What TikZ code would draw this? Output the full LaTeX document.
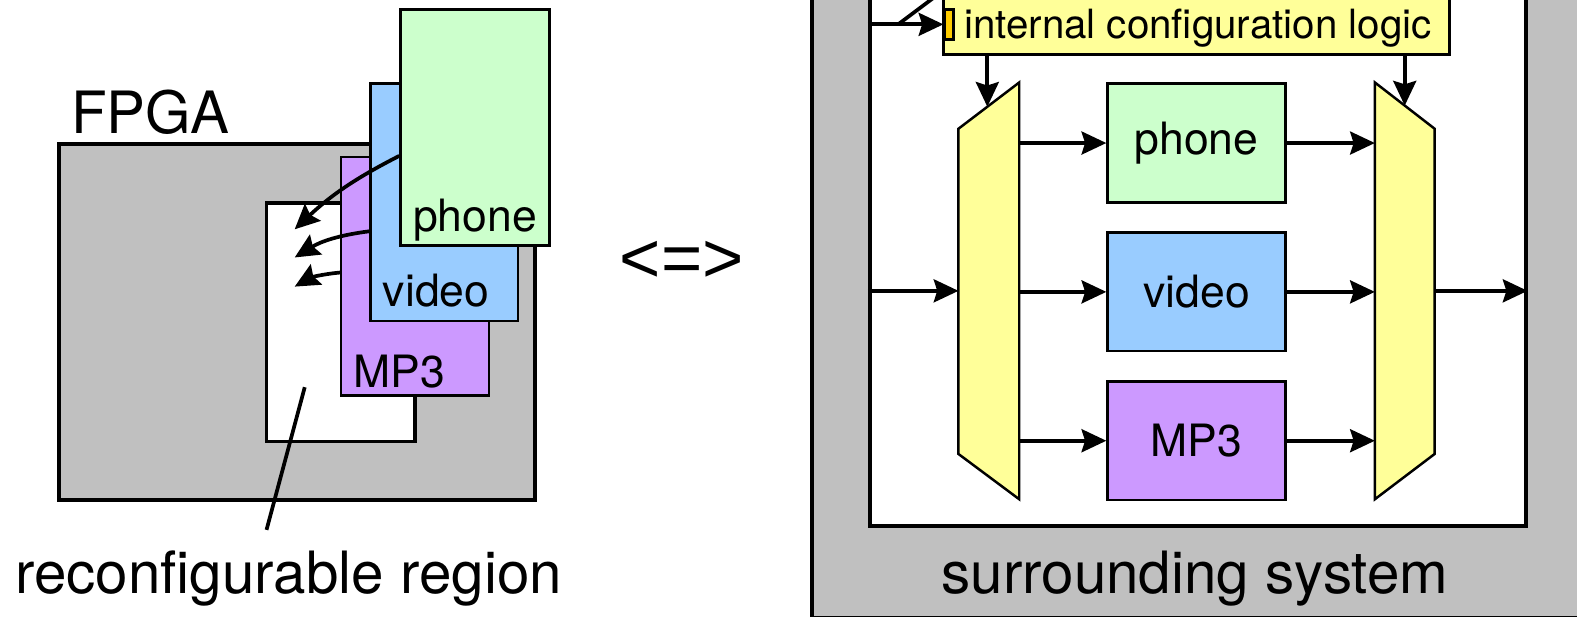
\documentclass[tikz,border=0pt]{standalone}
\usepackage{fontspec}
\setmainfont{TeX Gyre Heros}
\newfontfamily\symfont{Liberation Sans}
\usetikzlibrary{arrows.meta, positioning, calc}
\definecolor{fpgagray}{HTML}{C0C0C0}
\definecolor{phonegreen}{HTML}{CCFFCC}
\definecolor{videoblue}{HTML}{99CCFF}
\definecolor{mpthreepurple}{HTML}{CC99FF}
\definecolor{logicyellow}{HTML}{FFFF99}
\definecolor{portorange}{HTML}{FFCC00}
\newcommand{\bigtxt}{\fontsize{16.5}{19}\selectfont}
\newcommand{\boxtxt}{\fontsize{12.6}{15}\selectfont}
\newcommand{\logictxt}{\fontsize{11.4}{14}\selectfont}
\newcommand{\eqtxt}{\symfont\fontsize{20}{24}\selectfont}

\begin{document}
\begin{tikzpicture}[
    >={Stealth[length=7pt,width=6.5pt,inset=1pt]},
    chip/.style={
        rectangle, draw=black, fill=#1,
        line width=1.1pt, inner sep=0pt, anchor=north west
    },
    card/.style={
        rectangle, draw=black, fill=#1,
        line width=0.7pt, inner sep=0pt, anchor=north west
    },
    unit/.style={card=#1, minimum width=1.77cm, minimum height=1.18cm, font=\boxtxt},
    cardtxt/.style={anchor=base west, inner sep=0pt, font=\boxtxt},
    muxbox/.style={rectangle, draw=none, inner sep=0pt, anchor=north west, minimum height=4.13cm},
    mux/.style={draw=black, fill=logicyellow, line width=0.7pt, line join=miter},
    link/.style={line width=1.05pt, draw=black}
]
\clip (0,0) rectangle (15.68,-6.13);

% ==============================================================================
% LEFT: FPGA WITH SWAPPABLE MODULES
% ==============================================================================
\node[chip=fpgagray, minimum width=4.73cm, minimum height=3.54cm] (fpga) at (0.57,-1.41) {};
\node[anchor=base west, inner sep=0pt, font=\bigtxt] (fpgatxt) at (0.70,-1.33) {FPGA};

\node[chip=white, minimum width=1.48cm, minimum height=2.37cm] (region) at (2.63,-2.00) {};

\node[card=mpthreepurple, minimum width=1.47cm, minimum height=2.37cm] (mpcard) at (3.38,-1.55) {};
\node[cardtxt] (mptxt) at (3.51,-3.85) {MP3};

\node[card=videoblue, minimum width=1.47cm, minimum height=2.36cm] (videocard) at (3.67,-0.82) {};
\node[cardtxt] (videotxt) at (3.80,-3.05) {video};

\node[card=phonegreen, minimum width=1.48cm, minimum height=2.35cm] (phonecard) at (3.97,-0.08) {};
\node[cardtxt] (phonetxt) at (4.10,-2.30) {phone};

% slots inside the region
\coordinate (slotA) at (2.93,-2.28);
\coordinate (slotB) at (2.93,-2.56);
\coordinate (slotC) at (2.93,-2.85);

\draw[link,->] (phonecard.west |- 0,-1.55) to[bend right=8] (slotA);
\draw[link,->] (videocard.west |- 0,-2.30) to[bend right=12] (slotB);
\draw[link,->] (mpcard.west |- 0,-2.71) to[bend right=12] (slotC);

\node[anchor=base, inner sep=0pt, font=\bigtxt] (regtxt) at (2.87,-5.90) {reconfigurable region};
\coordinate (regptr) at (3.03,-3.85);
\draw[link] (regptr) -- ([shift={(-0.22,0.20)}]regtxt.north);

\node[font=\eqtxt, inner sep=0pt] (equiv) at (6.78,-2.60) {<=>};

% ==============================================================================
% RIGHT: MULTIPLEXED MODULES IN THE SURROUNDING SYSTEM
% ==============================================================================
\node[chip=fpgagray, minimum width=8.2cm, minimum height=6.5cm] (system) at (8.05,0.38) {};
\node[anchor=base, inner sep=0pt, font=\bigtxt] (systxt) at (11.88,-5.90) {surrounding system};

\node[chip=white, minimum width=6.52cm, minimum height=5.6cm] (fabric) at (8.63,0.39) {};

\node[card=logicyellow, minimum width=5.03cm, minimum height=0.9cm] (cfg) at (9.37,0.37) {};
\node[anchor=base west, inner sep=0pt, font=\logictxt] (cfgtxt) at (9.58,-0.38) {internal configuration logic};
\node[card=portorange, minimum width=0.09cm, minimum height=0.30cm] (cfgport) at (9.38,-0.08) {};

\coordinate (cfgin) at (fabric.west |- cfgport.west);
\draw[link,->] (cfgin) -- (cfgport.west);
\coordinate (cfgtap) at ($(cfgin)+(0.30,0)$);
\draw[link] (cfgtap) -- ++(0.40,0.30);

% multiplexers
\node[muxbox, minimum width=0.59cm] (lmux) at (9.53,-0.82) {};
\filldraw[mux] (lmux.north east) -- (lmux.south east) -- ([yshift=0.45cm]lmux.south west)
    -- ([yshift=-0.46cm]lmux.north west) coordinate (lmuxtl) -- cycle;

\node[muxbox, minimum width=0.58cm] (rmux) at (13.67,-0.82) {};
\filldraw[mux] (rmux.north west) -- ([yshift=-0.46cm]rmux.north east) coordinate (rmuxtr)
    -- ([yshift=0.45cm]rmux.south east) -- (rmux.south west) -- cycle;

\coordinate (lmuxtop) at ($(lmuxtl)!0.475!(lmux.north east)$);
\coordinate (rmuxtop) at ($(rmux.north west)!0.5!(rmuxtr)$);
\draw[link,->] (cfg.south -| lmuxtop) -- (lmuxtop);
\draw[link,->] (cfg.south -| rmuxtop) -- (rmuxtop);

% modules
\node[unit=phonegreen] (rphone) at (11.00,-0.82) {phone};
\node[unit=videoblue] (rvideo) at (11.00,-2.30) {video};
\node[unit=mpthreepurple] (rmp) at (11.00,-3.78) {MP3};

\draw[link,->] (fabric.west |- lmux.west) -- (lmux.west);
\draw[link,->] (lmux.east |- rphone.west) -- (rphone.west);
\draw[link,->] (lmux.east |- rvideo.west) -- (rvideo.west);
\draw[link,->] (lmux.east |- rmp.west) -- (rmp.west);
\draw[link,->] (rphone.east) -- (rmux.west |- rphone.east);
\draw[link,->] (rvideo.east) -- (rmux.west |- rvideo.east);
\draw[link,->] (rmp.east) -- (rmux.west |- rmp.east);
\draw[link,->] (rmux.east) -- (fabric.east |- rmux.east);

\end{tikzpicture}
\end{document}
